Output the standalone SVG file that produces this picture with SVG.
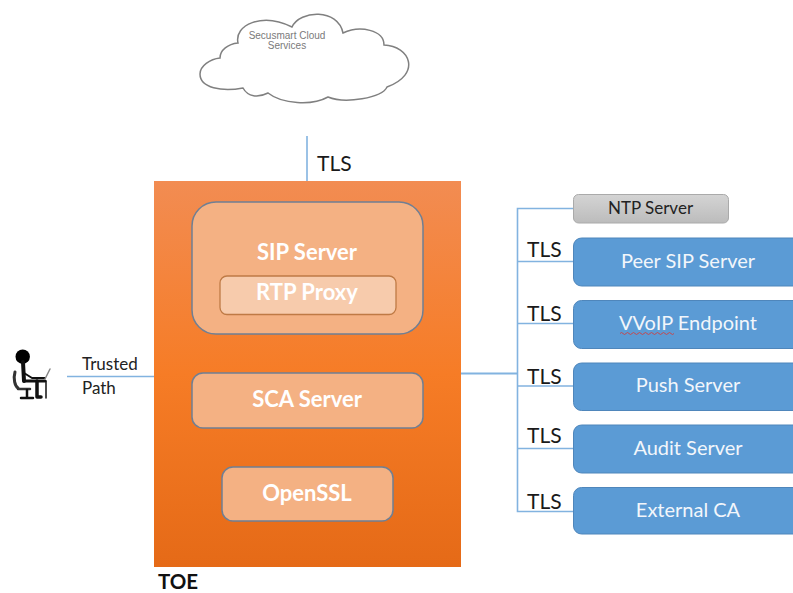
<svg xmlns="http://www.w3.org/2000/svg" width="793" height="593" viewBox="0 0 793 593">
<style>
text{font-family:"Lato","Open Sans","Liberation Sans",sans-serif}
.c{fill:none;stroke:#82b3e0;stroke-width:1.6}
.tls{font-size:21px;fill:#1a1a1a}
.in{fill:#f4b183;stroke:#6f7f94;stroke-width:1.5}
.w{fill:#fff;font-size:22px;font-weight:700;text-anchor:middle}
.b{fill:#5b9bd5;stroke:#4f86bb;stroke-width:1}
.bt{fill:#f2f6fb;font-size:20px;text-anchor:middle}
.cl{font-family:"Liberation Sans",Arial,sans-serif;font-size:10px;fill:#7a7a7a;text-anchor:middle}
.tr{font-size:17px;fill:#222}
</style>
<defs>
<linearGradient id="g" x1="0" y1="0" x2="0" y2="1">
<stop offset="0" stop-color="#f28c52"/>
<stop offset="0.5" stop-color="#f67c26"/>
<stop offset="1" stop-color="#e56a17"/>
</linearGradient>
<linearGradient id="gr" x1="0" y1="0" x2="0" y2="1">
<stop offset="0" stop-color="#d4d4d4"/>
<stop offset="1" stop-color="#bcbcbc"/>
</linearGradient>
</defs>
<g id="connectors">
<path class="c" d="M307 136V181"/>
<path class="c" d="M67 376.500H154"/>
<path class="c" style="stroke-width:2.200" d="M461 373.500H517"/>
<path class="c" d="M573.500 208.500H517.500V511.500H573.500M517.500 261.500H573.500M517.500 323.500H573.500M517.500 386H573.500M517.500 448.500H573.500"/>
</g>
<g id="cloud">
<path d="M238 43C234 25 262 12 292 27C300 10 338 8 343 33C360 25 384 30 384 45C410 46 422 74 387 87C382 98 345 104 328 97C312 106 282 104 268 93C258 98 248 97 243 88C222 92 200 88 200 74C200 66 210 59 220 58C220 50 228 44 238 43Z" fill="#fff" stroke="#808080" stroke-width="1.500"/>
<text class="cl" x="287" y="38.500">Secusmart Cloud</text>
<text class="cl" x="287" y="49">Services</text>
</g>
<g id="toe">
<rect x="154" y="181" width="307" height="386" fill="url(#g)"/>
<text x="158" y="588.500" font-size="20.500" font-weight="700" fill="#111">TOE</text>
</g>
<g id="sip-server">
<rect class="in" x="192" y="202" width="231" height="132" rx="24"/>
<text class="w" x="307" y="260">SIP Server</text>
</g>
<g id="rtp-proxy">
<rect x="220" y="276" width="176" height="38.500" rx="7" fill="#f7cbac" stroke="#bf7a45" stroke-width="1.300"/>
<text class="w" x="307" y="300">RTP Proxy</text>
</g>
<g id="sca-server">
<rect class="in" x="192" y="373" width="231" height="55" rx="11"/>
<text class="w" x="307" y="407">SCA Server</text>
</g>
<g id="openssl">
<rect class="in" x="222" y="467" width="171" height="54" rx="11"/>
<text class="w" x="307" y="501">OpenSSL</text>
</g>
<g id="user">
<g stroke="#111" fill="none" stroke-linecap="round" stroke-linejoin="round">
<circle cx="22.700" cy="356.700" r="7.200" fill="#000" stroke="none"/>
<path d="M23 362L24 381" stroke-width="4"/>
<path d="M24 373L32 378H45" stroke-width="2"/>
<path d="M24 381H45" stroke-width="3"/>
<path d="M37 381V397H41" stroke-width="3.500"/>
<path d="M46 381V398" stroke-width="1.500"/>
<path d="M15 372C13 379 15 386 18 388" stroke-width="3" stroke="#333"/>
<path d="M18 389H30" stroke-width="2.500" stroke="#333"/>
<path d="M27 390V397M21 398H33" stroke-width="2.500"/>
<path d="M45 379L50 369" stroke="#888" stroke-width="1.500"/>
</g>
</g>
<g id="trusted-label">
<text class="tr" x="82" y="369.500">Trusted</text>
<text class="tr" x="82" y="393.500">Path</text>
</g>
<g id="tls-labels">
<text class="tls" x="317" y="171">TLS</text>
<text class="tls" x="527" y="257">TLS</text>
<text class="tls" x="527" y="321">TLS</text>
<text class="tls" x="527" y="384">TLS</text>
<text class="tls" x="527" y="443">TLS</text>
<text class="tls" x="527" y="509">TLS</text>
</g>
<g id="ntp-server">
<rect x="573.500" y="194.500" width="155" height="28.500" rx="5" fill="url(#gr)" stroke="#aaa"/>
<text x="650.500" y="214" font-size="17" fill="#222" text-anchor="middle">NTP Server</text>
</g>
<g id="peer-sip-server">
<rect class="b" x="573.500" y="238" width="240" height="48" rx="8"/>
<text class="bt" x="688" y="268">Peer SIP Server</text>
</g>
<g id="vvoip-endpoint">
<rect class="b" x="573.500" y="300.500" width="240" height="48" rx="8"/>
<text class="bt" x="688" y="330">VVoIP Endpoint</text>
<path d="M620 333.500q1.500-2 3 0t3 0t3 0t3 0t3 0t3 0t3 0t3 0t3 0t3 0t3 0t3 0t3 0t3 0t3 0t3 0t3 0t3 0" fill="none" stroke="#d0403f" stroke-width="0.900"/>
</g>
<g id="push-server">
<rect class="b" x="573.500" y="363" width="240" height="47.500" rx="8"/>
<text class="bt" x="688" y="392">Push Server</text>
</g>
<g id="audit-server">
<rect class="b" x="573.500" y="425" width="240" height="48" rx="8"/>
<text class="bt" x="688" y="455">Audit Server</text>
</g>
<g id="external-ca">
<rect class="b" x="573.500" y="487.500" width="240" height="46.500" rx="8"/>
<text class="bt" x="688" y="517">External CA</text>
</g>
</svg>
